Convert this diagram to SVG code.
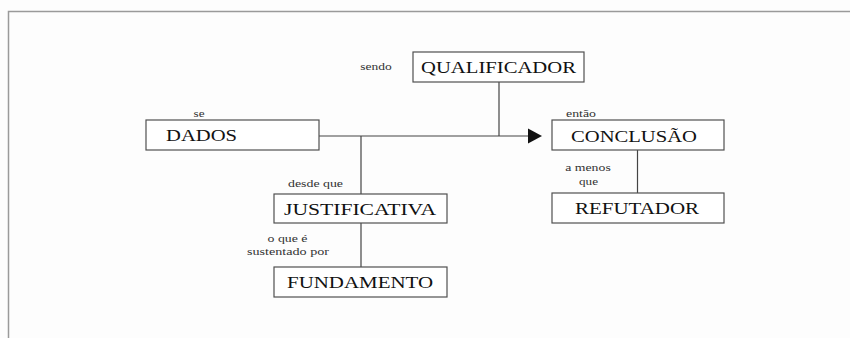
<svg xmlns="http://www.w3.org/2000/svg" width="850" height="338" viewBox="0 0 850 338">
<defs>
<style>
.bg{fill:#fdfdfd}
.frame{fill:none;stroke:#9a9a9a;stroke-width:1.5}
.box{fill:#ffffff;stroke:#505050;stroke-width:1.2}
.conn{fill:none;stroke:#444444;stroke-width:1.2}
.big{font-family:"Liberation Serif","Times New Roman",serif;font-size:17.5px;fill:#111111}
.small{font-family:"Liberation Serif","Times New Roman",serif;font-size:11px;fill:#333333;text-anchor:middle}
</style>
</defs>
<rect class="bg" x="0" y="0" width="850" height="338"/>
<path class="frame" d="M8.5,338 V11.5 H850"/>
<g id="connectors">
<path class="conn" d="M319,136 H529"/>
<polygon points="528,128.5 542,136 528,143.5" fill="#111111"/>
<path class="conn" d="M499,82 V136"/>
<path class="conn" d="M361,136 V194"/>
<path class="conn" d="M361,223 V267"/>
<path class="conn" d="M637.5,150 V193"/>
</g>
<g id="qualificador">
<rect class="box" x="413" y="52" width="171" height="30"/>
<text class="big" x="421" y="72.5" textLength="155" lengthAdjust="spacingAndGlyphs">QUALIFICADOR</text>
<text class="small" x="376" y="70" textLength="31.5" lengthAdjust="spacingAndGlyphs">sendo</text>
</g>
<g id="dados">
<rect class="box" x="146" y="120" width="173" height="30"/>
<text class="big" x="166" y="141" textLength="71" lengthAdjust="spacingAndGlyphs">DADOS</text>
<text class="small" x="199" y="117" textLength="11" lengthAdjust="spacingAndGlyphs">se</text>
</g>
<g id="conclusao">
<rect class="box" x="552" y="120" width="172" height="30"/>
<text class="big" x="571" y="141.5" textLength="126" lengthAdjust="spacingAndGlyphs">CONCLUSÃO</text>
<text class="small" x="581" y="117" textLength="30" lengthAdjust="spacingAndGlyphs">então</text>
</g>
<g id="refutador">
<rect class="box" x="552" y="193" width="172" height="30"/>
<text class="big" x="575" y="214" textLength="124" lengthAdjust="spacingAndGlyphs">REFUTADOR</text>
<text class="small" x="588" y="171" textLength="45.5" lengthAdjust="spacingAndGlyphs">a menos</text>
<text class="small" x="588.5" y="185" textLength="19" lengthAdjust="spacingAndGlyphs">que</text>
</g>
<g id="justificativa">
<rect class="box" x="274" y="194" width="173" height="29"/>
<text class="big" x="284" y="215" textLength="152" lengthAdjust="spacingAndGlyphs">JUSTIFICATIVA</text>
<text class="small" x="315.5" y="186.5" textLength="55" lengthAdjust="spacingAndGlyphs">desde que</text>
</g>
<g id="fundamento">
<rect class="box" x="274" y="267" width="173" height="30"/>
<text class="big" x="287" y="288" textLength="146" lengthAdjust="spacingAndGlyphs">FUNDAMENTO</text>
<text class="small" x="287.5" y="241.5" textLength="40" lengthAdjust="spacingAndGlyphs">o que é</text>
<text class="small" x="288" y="254.5" textLength="82" lengthAdjust="spacingAndGlyphs">sustentado por</text>
</g>
</svg>
